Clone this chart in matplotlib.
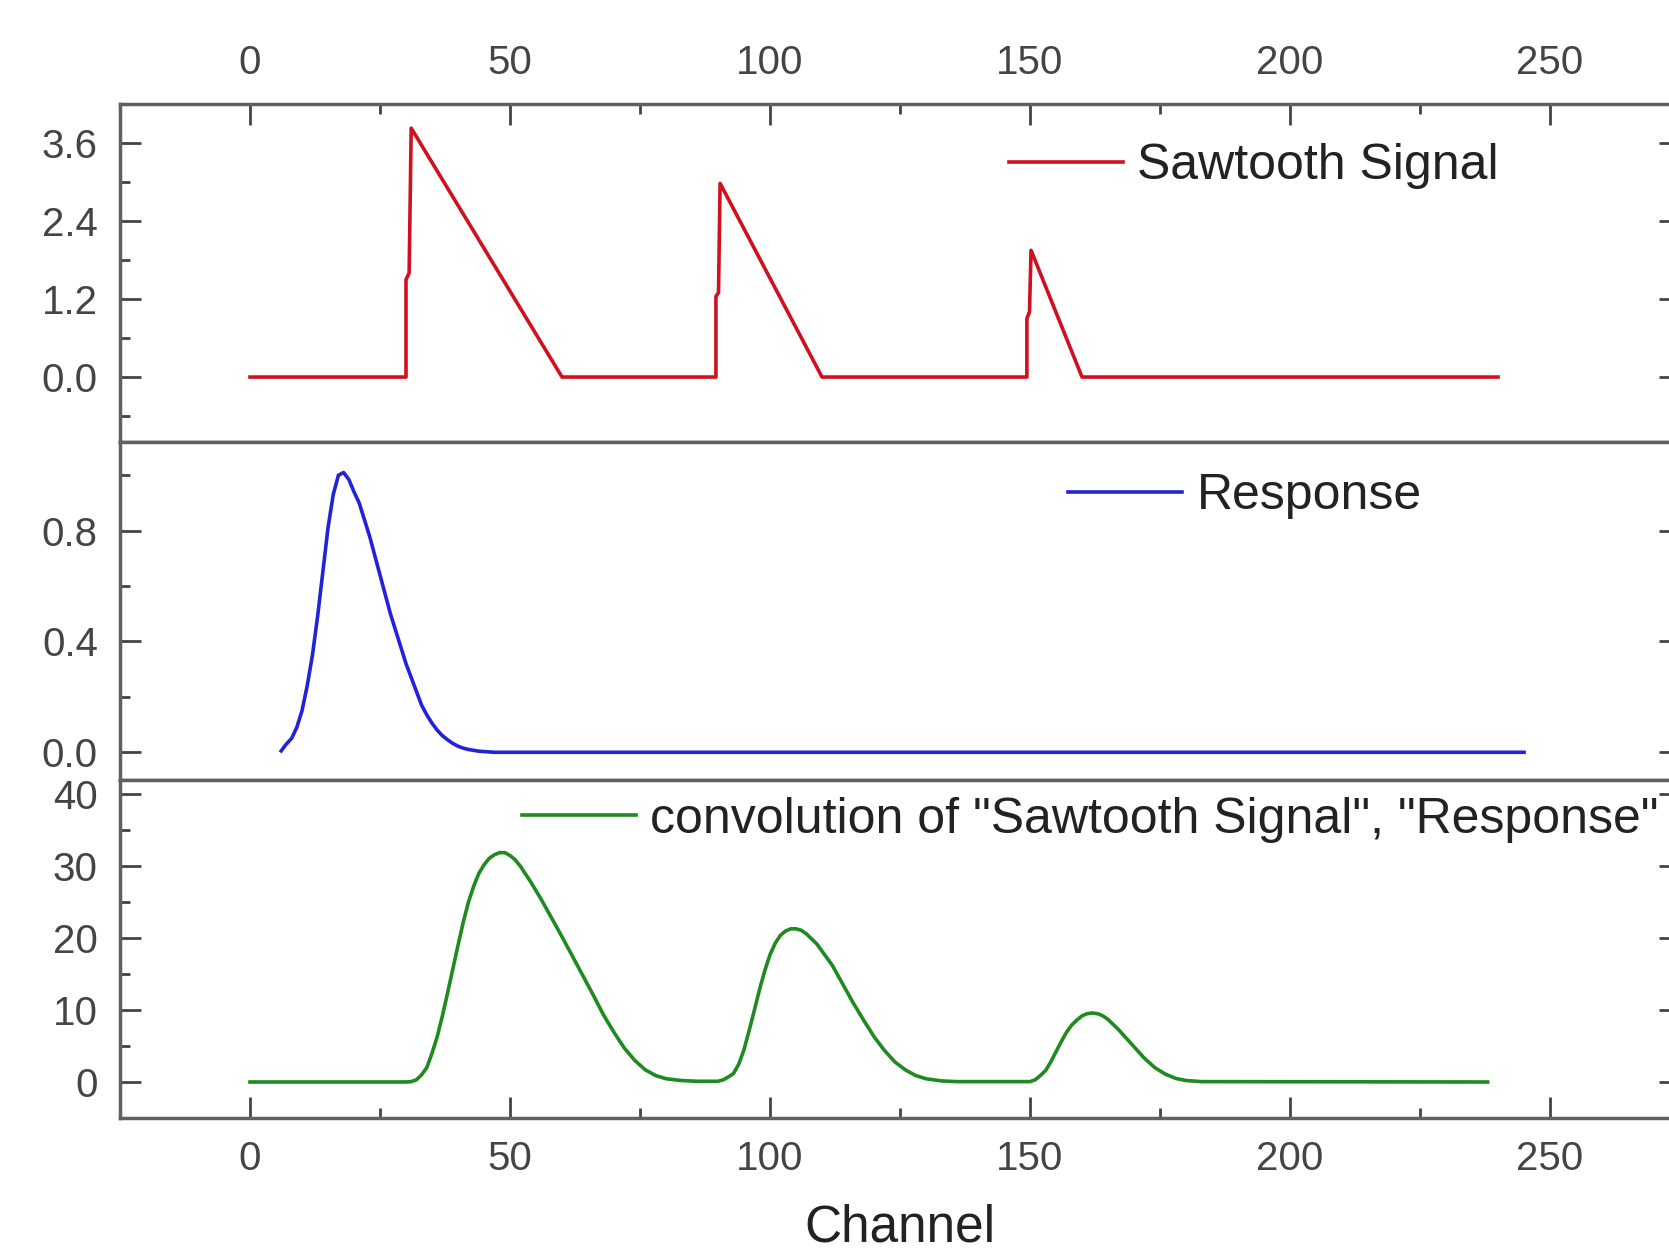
import numpy as np
import matplotlib.pyplot as plt
from matplotlib.ticker import MultipleLocator, FormatStrFormatter

plt.rcParams['font.family'] = ['Liberation Sans', 'DejaVu Sans']

# Sawtooth Signal (channel, value)
saw_x = [0, 30, 30, 30.6, 31, 60, 89.6, 89.6, 90.1, 90.4, 110, 149.4, 149.4, 149.9, 150.2, 160, 240]
saw_y = [0, 0, 1.5, 1.6, 3.83, 0, 0, 1.24, 1.3, 2.98, 0, 0, 0.9, 1.0, 1.95, 0, 0]

# Response
resp_x = [6, 7, 8, 9, 10, 11, 12, 13, 14, 15, 16, 17, 18, 19, 20, 21, 22, 23, 24, 25,
          26, 27, 28, 29, 30, 31, 32, 33, 34, 35, 36, 37, 38, 39, 40, 41, 42, 44, 47, 245]
resp_y = [0.005, 0.03, 0.05, 0.09, 0.15, 0.24, 0.35, 0.49, 0.65, 0.81, 0.93, 1.0, 1.01,
          0.985, 0.94, 0.90, 0.84, 0.78, 0.71, 0.64, 0.57, 0.50, 0.44, 0.38, 0.32, 0.27,
          0.22, 0.17, 0.135, 0.105, 0.08, 0.06, 0.045, 0.032, 0.022, 0.015, 0.01, 0.004,
          0.0, 0.0]

# convolution of "Sawtooth Signal", "Response"
conv_x = [0, 30, 31, 32, 33, 34, 35, 36, 37, 38, 39, 40, 41, 42, 43, 44, 45, 46, 47, 48,
          49, 50, 51, 52, 53, 54, 55, 56, 58, 60, 62, 64, 66, 68, 70, 72, 74, 76, 78, 80,
          83, 86, 90, 91, 92, 93, 94, 95, 96, 97, 98, 99, 100, 101, 102, 103, 104, 105,
          106, 107, 108, 109, 110, 112, 114, 116, 118, 120, 122, 124, 126, 128, 130, 133,
          136, 150, 151, 152, 153, 154, 155, 156, 157, 158, 159, 160, 161, 162, 163, 164,
          165, 166, 167, 168, 170, 172, 174, 176, 178, 180, 183, 238]
conv_y = [0, 0, 0.05, 0.3, 1.0, 2.0, 4.0, 6.3, 9.2, 12.4, 15.7, 19.0, 22.2, 25.0, 27.2,
          29.0, 30.2, 31.1, 31.6, 31.9, 31.9, 31.5, 30.9, 30.0, 28.9, 27.8, 26.6, 25.4,
          22.8, 20.2, 17.5, 14.8, 12.1, 9.3, 6.9, 4.7, 3.0, 1.7, 0.9, 0.45, 0.2, 0.1, 0.1,
          0.3, 0.7, 1.2, 2.5, 4.5, 7.2, 10.0, 12.9, 15.5, 17.7, 19.3, 20.4, 21.0, 21.3,
          21.3, 21.1, 20.6, 19.9, 19.2, 18.2, 16.2, 13.6, 11.0, 8.6, 6.3, 4.4, 2.8, 1.7,
          0.9, 0.45, 0.15, 0.05, 0.05, 0.3, 0.9, 1.6, 2.8, 4.2, 5.6, 6.9, 7.9, 8.6, 9.2,
          9.5, 9.6, 9.5, 9.2, 8.7, 8.0, 7.3, 6.5, 4.9, 3.3, 2.0, 1.1, 0.5, 0.2, 0.05, 0.0]

fig = plt.figure(figsize=(16.69, 12.54), dpi=100)
L, W = 0.0719, 0.9347
ax1 = fig.add_axes([L, 0.6475, W, 0.2695])
ax2 = fig.add_axes([L, 0.378, W, 0.2695])
ax3 = fig.add_axes([L, 0.1085, W, 0.2695])

spine_col = '#606060'
for ax in (ax1, ax2, ax3):
    ax.set_xlim(-25, 275)
    ax.xaxis.set_major_locator(MultipleLocator(50))
    ax.xaxis.set_minor_locator(MultipleLocator(25))
    for s in ax.spines.values():
        s.set_color(spine_col)
        s.set_linewidth(2.5)
    ax.tick_params(which='both', direction='in', colors='#444444', labelsize=29,
                   pad=16, width=2, right=True, left=True, top=False, bottom=False,
                   labelbottom=False)
    ax.tick_params(which='major', length=15)
    ax.tick_params(which='minor', length=7)

ax1.tick_params(axis='x', which='both', top=True, labeltop=True)
ax3.tick_params(axis='x', which='both', bottom=True, labelbottom=True)

# top panel
ax1.plot(saw_x, saw_y, color='#d0101e', lw=2.6, label='Sawtooth Signal')
ax1.set_ylim(-1.0, 4.2)
ax1.yaxis.set_minor_locator(MultipleLocator(0.6))
ax1.yaxis.set_major_formatter(FormatStrFormatter('%.1f'))
ax1.set_yticks([0.0, 1.2, 2.4, 3.6])

# middle panel
ax2.plot(resp_x, resp_y, color='#2222d8', lw=2.6, label='Response')
ax2.set_ylim(-0.1, 1.12)
ax2.set_yticks([0.0, 0.4, 0.8])
ax2.yaxis.set_minor_locator(MultipleLocator(0.2))
ax2.yaxis.set_major_formatter(FormatStrFormatter('%.1f'))

# bottom panel
ax3.plot(conv_x, conv_y, color='#1f8a1f', lw=2.6,
         label='convolution of "Sawtooth Signal", "Response"')
ax3.set_ylim(-5, 42)
ax3.set_yticks([0, 10, 20, 30, 40])
ax3.yaxis.set_minor_locator(MultipleLocator(5))
ax3.set_xlabel('Channel', fontsize=37, color='#222222', labelpad=18)

for ax, pos in ((ax1, (0.570, 0.816)), (ax2, (0.608, 0.840)), (ax3, (0.258, 0.882))):
    ax.legend(loc='center left', bbox_to_anchor=pos, frameon=False, fontsize=36,
              handlelength=2.28, handletextpad=0.28, borderpad=0, borderaxespad=0,
              labelcolor='#222222')

fig.savefig('out.png', dpi=100)
